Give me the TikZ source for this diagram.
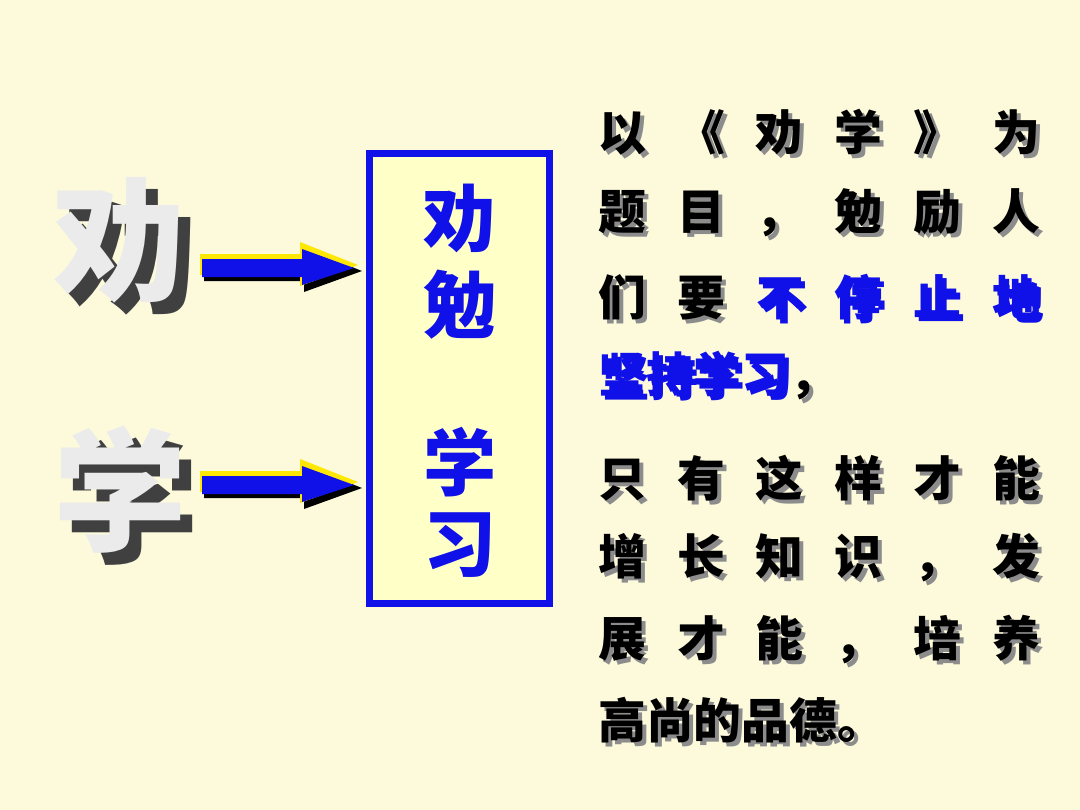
\documentclass[tikz,border=0pt]{standalone}
\usepackage{fontspec}
\newfontfamily\cjk{Noto Sans CJK SC}
\definecolor{bg}{HTML}{FDFADC}
\definecolor{boxfill}{HTML}{FFFFC8}
\definecolor{tblue}{HTML}{1010E8}
\newcommand\jl[1]{\makebox[11.05cm][l]{#1}}
\newcommand\hf{\hfill{}}
\newcommand\bl[1]{\textcolor{tblue}{#1}}
\newcommand\tline[3]{%
  \node[line,text=black!45] at (602,#1+4) {#3};
  \node[line] (#2) at (598,#1) {#3};}
\begin{document}
\begin{tikzpicture}[x=0.025cm,y=-0.025cm,
  big/.style={font=\cjk\bfseries\fontsize{95}{95}\selectfont},
  boxch/.style={font=\cjk\bfseries\fontsize{52}{52}\selectfont,text=tblue},
  line/.style={font=\cjk\bfseries\fontsize{34}{34}\selectfont,anchor=west,inner sep=0}]
\fill[bg] (0,0) rectangle (1080,810);
\useasboundingbox (0,0) rectangle (1080,810);
% big characters with shadow
\node[big,text=black!75] at (132,252) {劝};
\node[big,text=black!8] (ba) at (120,240) {劝};
\node[big,text=black!75] at (132,502) {学};
\node[big,text=black!8] (bb) at (120,490) {学};
% arrows
\foreach \y in {268,485}{
  \fill[black] (204,\y-8)--(304,\y-8)--(304,\y-20)--(362,\y+3)--(304,\y+24)--(304,\y+13)--(204,\y+13)--cycle;
  \fill[yellow!90!orange] (200,\y-14)--(300,\y-14)--(300,\y-26)--(358,\y-3)--(300,\y+18)--(300,\y+7)--(200,\y+7)--cycle;
  \fill[tblue] (202,\y-9)--(302,\y-9)--(302,\y-19)--(354,\y)--(302,\y+17)--(302,\y+9)--(202,\y+9)--cycle;
}
% box
\draw[draw=tblue,line width=0.175cm,fill=boxfill] (369,153) rectangle (549,603);
\node[boxch] (b1) at (460,218) {劝};
\node[boxch] (b2) at (460,305) {勉};
\node[boxch] (b3) at (460,462) {学};
\node[boxch] (b4) at (460,545) {习};
% right text
\tline{132}{t1}{\jl{以\hf 《\hf 劝\hf 学\hf 》\hf 为}}
\tline{213}{t2}{\jl{题\hf 目\hf ，\hf 勉\hf 励\hf 人}}
\tline{297}{t3}{\jl{们\hf 要\hf \bl{不}\hf \bl{停}\hf \bl{止}\hf \bl{地}}}
\tline{376}{t4}{\bl{坚持学习}，}
\tline{478}{t5}{\jl{只\hf 有\hf 这\hf 样\hf 才\hf 能}}
\tline{558}{t6}{\jl{增\hf 长\hf 知\hf 识\hf ，\hf 发}}
\tline{640}{t7}{\jl{展\hf 才\hf 能\hf ，\hf 培\hf 养}}
\tline{720}{t8}{高尚的品德。}
\end{tikzpicture}
\end{document}
